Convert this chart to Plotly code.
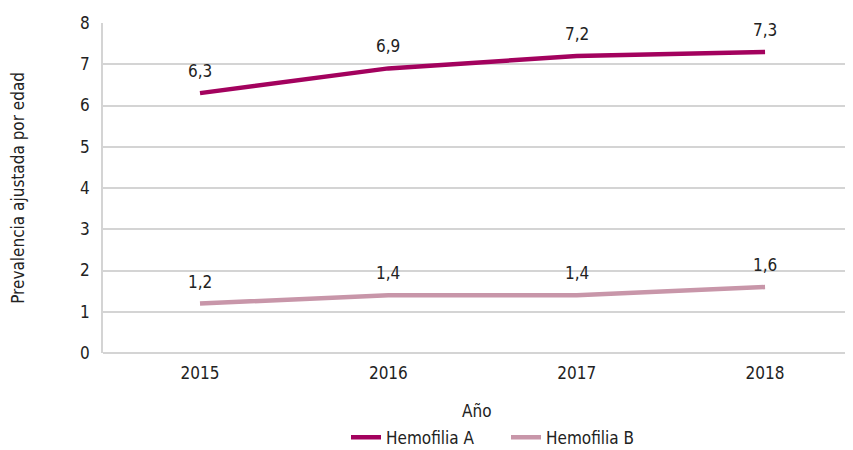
import plotly.graph_objects as go

# años y prevalencias ajustadas por edad
anios = ["2015", "2016", "2017", "2018"]
hemofilia_a = [6.3, 6.9, 7.2, 7.3]
hemofilia_b = [1.2, 1.4, 1.4, 1.6]

fuente = "Liberation Sans Narrow, DejaVu Sans Condensed, Arial Narrow, sans-serif"
color_a = "#A3025E"
color_b = "#C896A9"


def etiqueta(v):
    return f"{v:.1f}".replace(".", ",")


fig = go.Figure()
fig.add_trace(go.Scatter(
    x=anios, y=hemofilia_a, name="Hemofilia A",
    mode="lines", line=dict(color=color_a, width=4.5),
))
fig.add_trace(go.Scatter(
    x=anios, y=hemofilia_b, name="Hemofilia B",
    mode="lines", line=dict(color=color_b, width=4.5),
))

# etiquetas de datos sobre cada punto (x por índice de categoría)
for serie in (hemofilia_a, hemofilia_b):
    for i, v in enumerate(serie):
        fig.add_annotation(x=i, y=v, text=etiqueta(v), showarrow=False,
                           yshift=22, font=dict(size=17, color="#222222"))

fig.add_annotation(text="Año", xref="paper", yref="paper", x=0.5, y=-0.176,
                   yanchor="middle", showarrow=False, font=dict(size=17))
fig.add_annotation(text="Prevalencia ajustada por edad", xref="paper", yref="paper",
                   x=-0.114, y=0.5, xanchor="center", yanchor="middle",
                   textangle=-90, showarrow=False, font=dict(size=17))

fig.update_layout(
    width=845, height=442,
    margin=dict(l=95, r=3, t=15, b=97, autoexpand=False),
    paper_bgcolor="white", plot_bgcolor="white",
    font=dict(family=fuente, size=17, color="#222222"),
    xaxis=dict(
        type="category", showgrid=False, ticks="", range=[-0.515, 3.451],
        automargin=False, tickfont=dict(size=17), ticklabelstandoff=8,
    ),
    yaxis=dict(
        range=[0, 8], dtick=1, showgrid=True, gridcolor="#D4D4D4", gridwidth=1.5,
        showline=True, linecolor="#D4D4D4", linewidth=1.5,
        zeroline=True, zerolinecolor="#D4D4D4", zerolinewidth=1.5,
        ticks="", tickfont=dict(size=17), automargin=False, ticklabelstandoff=8,
    ),
    legend=dict(
        orientation="h", xref="container", yref="container",
        x=0.4, xanchor="left", y=0.028, yanchor="middle",
        font=dict(size=17), tracegroupgap=0, entrywidth=115,
    ),
    showlegend=True,
)

fig.write_html("out.html")
